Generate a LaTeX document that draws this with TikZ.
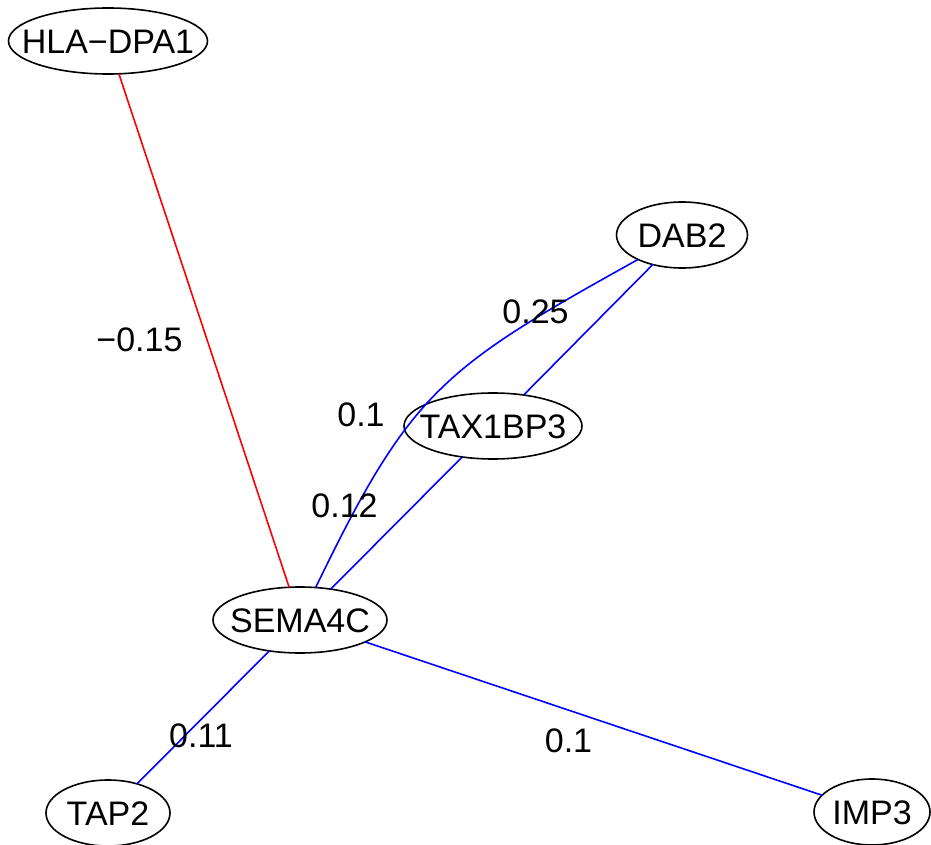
\documentclass[tikz,border=0pt]{standalone}
\usepackage{fontspec}
\setmainfont{Liberation Sans}
\usetikzlibrary{shapes.geometric}
\newcommand{\ctext}[1]{\makebox[0pt]{\raisebox{-0.358em}[0pt][0pt]{#1}}}
\begin{document}
\begin{tikzpicture}[x=1pt,y=-1pt,
  gene/.style={ellipse,draw=black,line width=1.6pt,inner sep=0pt,outer sep=0pt,minimum height=66pt,font=\fontsize{34}{40}\selectfont},
  wlabel/.style={inner sep=0pt,font=\fontsize{34}{40}\selectfont},
  posedge/.style={draw={rgb,255:red,0;green,0;blue,255},line width=1.6pt},
  negedge/.style={draw={rgb,255:red,255;green,0;blue,0},line width=1.6pt}]
\useasboundingbox (0,0) rectangle (931,845);
\node[gene,minimum width=199pt] (hla) at (108,41) {\ctext{HLA−DPA1}};
\node[gene,minimum width=131pt] (dab) at (682,235) {\ctext{DAB2}};
\node[gene,minimum width=178pt] (tax) at (493,426) {\ctext{TAX1BP3}};
\node[gene,minimum width=174pt] (sema) at (300,620) {\ctext{SEMA4C}};
\node[gene,minimum width=124pt] (tap) at (108,813) {\ctext{TAP2}};
\node[gene,minimum width=116pt] (imp) at (872,812) {\ctext{IMP3}};
\draw[negedge] (hla) -- (sema);
\draw[posedge] (dab) -- (tax);
\draw[posedge] (tax) -- (sema);
\draw[posedge] (dab) .. controls (443,368) and (411,390) .. (sema);
\draw[posedge] (sema) -- (tap);
\draw[posedge] (sema) -- (imp);
\node[wlabel] (l1) at (139.5,339.5) {\ctext{−0.15}};
\node[wlabel] (l2) at (535.5,311.5) {\ctext{0.25}};
\node[wlabel] (l3) at (361,414) {\ctext{0.1}};
\node[wlabel] (l4) at (344.5,505) {\ctext{0.12}};
\node[wlabel] (l5) at (201,735) {\ctext{0.11}};
\node[wlabel] (l6) at (568.5,740) {\ctext{0.1}};
\end{tikzpicture}
\end{document}
